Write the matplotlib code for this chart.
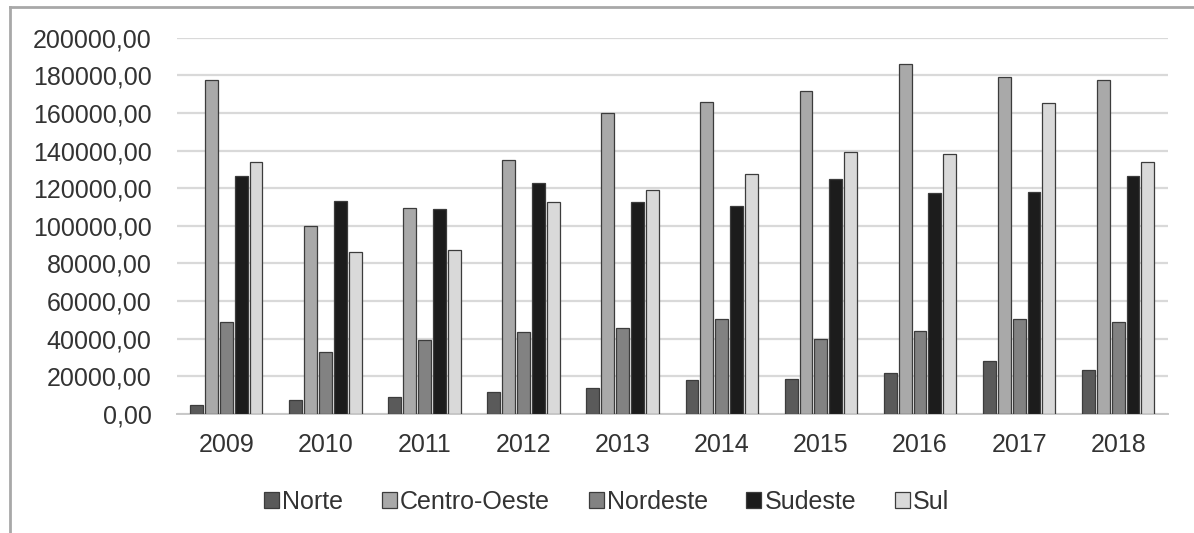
import matplotlib
matplotlib.use("Agg")
import matplotlib.pyplot as plt
import numpy as np
from matplotlib.lines import Line2D
from matplotlib.ticker import FuncFormatter

plt.rcParams['font.family'] = ['Liberation Sans', 'DejaVu Sans']

years = ["2009", "2010", "2011", "2012", "2013", "2014", "2015", "2016", "2017", "2018"]
regions = ["Norte", "Centro-Oeste", "Nordeste", "Sudeste", "Sul"]

norte = [4900, 7600, 9000, 11700, 13800, 17900, 18600, 21800, 28300, 23500]
centro_oeste = [177500, 100000, 109600, 134900, 159900, 166000, 171900, 186000, 179000, 177500]
nordeste = [48900, 32700, 39100, 43500, 45500, 50400, 40000, 44200, 50400, 49000]
sudeste = [126700, 113300, 109000, 122700, 112600, 110300, 124800, 117400, 118100, 126700]
sul = [134000, 86000, 87300, 112600, 119000, 127500, 139100, 138200, 165500, 134000]

series = [norte, centro_oeste, nordeste, sudeste, sul]
colors = ["#5a5a5a", "#a9a9a9", "#828282", "#1c1c1c", "#d9d9d9"]
text_color = "#333333"

fig = plt.figure(figsize=(11.94, 5.33), dpi=100)
ax = fig.add_axes([0.148, 0.2233, 0.83, 0.706])

x = np.arange(len(years))
step = 0.15
width = 0.13
for i, (vals, col, name) in enumerate(zip(series, colors, regions)):
    ax.bar(x + (i - 2) * step, vals, width=width, color=col,
           edgecolor="#3c3c3c", linewidth=0.9, label=name, zorder=3)

ax.set_xlim(-0.5, len(years) - 0.5)
ax.set_ylim(0, 200000)
ax.set_yticks(np.arange(0, 200001, 20000))
ax.yaxis.set_major_formatter(FuncFormatter(lambda v, p: f"{v:.2f}".replace(".", ",")))
ax.set_xticks(x)
ax.set_xticklabels(years)
ax.tick_params(axis="both", length=0, labelsize=18, colors=text_color)
ax.tick_params(axis="y", pad=18)
ax.tick_params(axis="x", pad=14)

ax.grid(axis="y", color="#d9d9d9", linewidth=1.6, zorder=0)
for s in ["top", "right", "left"]:
    ax.spines[s].set_visible(False)
ax.spines["bottom"].set_color("#c8c8c8")
ax.spines["bottom"].set_linewidth(1.4)

leg = fig.legend(loc="center", bbox_to_anchor=(0.508, 0.059), ncol=5, frameon=False,
                 fontsize=18, handlelength=0.6, handleheight=0.6,
                 handletextpad=0.12, columnspacing=1.55, labelcolor=text_color)

# outer frame lines along the top and left edges
fig.add_artist(Line2D([0.0084, 1.0], [0.987, 0.987], transform=fig.transFigure,
                      color="#a8a8a8", linewidth=2))
fig.add_artist(Line2D([0.0084, 0.0084], [0.0, 0.987], transform=fig.transFigure,
                      color="#a8a8a8", linewidth=2))

fig.savefig("out.png", dpi=100, facecolor="white")
